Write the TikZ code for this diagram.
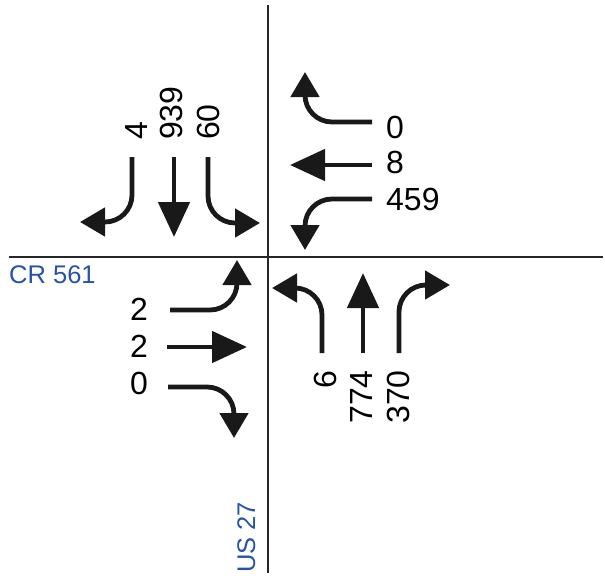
\documentclass[tikz,border=0pt]{standalone}
\usepackage{fontspec}
\setmainfont{Liberation Sans}
\usetikzlibrary{arrows.meta}
\definecolor{roadblue}{RGB}{38,84,164}
\tikzset{
  road/.style={line width=2.3pt, black!85},
  move/.style={line width=4.8pt, black!90, rounded corners=27pt},
  turn/.style={move, -{Triangle[length=25pt,width=28pt]}},
  thru/.style={move, -{Triangle[length=35pt,width=31pt]}},
  vol/.style={font=\fontsize{32}{32}\selectfont, inner sep=0pt, text depth=0pt},
  roadname/.style={font=\fontsize{25.5}{25.5}\selectfont, text=roadblue, inner sep=0pt},
}
\begin{document}
\begin{tikzpicture}[x=1pt, y=-1pt]
\useasboundingbox (0,0) rectangle (605,579);

% roads
\draw[road] (268,5) -- (268,573);
\draw[road] (9,257) -- (603,257);
\node[roadname, anchor=base west] (cr) at (9,283) {CR 561};
\node[roadname, anchor=base west, rotate=90] (us) at (255,573) {US 27};

% southbound approach
\draw[turn] (132,157) |- (80,222);
\draw[thru] (174,157) -- (174,237);
\draw[turn] (208,157) |- (260,223);
\node[vol, rotate=90, anchor=west] (sl) at (136,140) {4};
\node[vol, rotate=90, anchor=west] (st) at (171,140) {939};
\node[vol, rotate=90, anchor=west] (sr) at (208,140) {60};

% westbound approach
\draw[turn] (372,122) -| (305,72);
\draw[thru] (372,165) -- (290,165);
\draw[turn] (372,199) -| (305,250);
\node[vol, anchor=west] (wl) at (386,127) {0};
\node[vol, anchor=west] (wt) at (386,162) {8};
\node[vol, anchor=west] (wr) at (386,199) {459};

% eastbound approach
\draw[turn] (170,310) -| (237,260);
\draw[thru] (167,347) -- (247,347);
\draw[turn] (168,387) -| (234,438);
\node[vol, anchor=east] (el) at (148,309) {2};
\node[vol, anchor=east] (et) at (148,346) {2};
\node[vol, anchor=east] (er) at (148,383) {0};

% northbound approach
\draw[turn] (322,353) |- (272,288);
\draw[thru] (363,353) -- (363,273);
\draw[turn] (399,353) |- (450,285);
\node[vol, rotate=90, anchor=east] (nl) at (325,370) {6};
\node[vol, rotate=90, anchor=east] (nt) at (361,370) {774};
\node[vol, rotate=90, anchor=east] (nr) at (398,370) {370};
\end{tikzpicture}
\end{document}
